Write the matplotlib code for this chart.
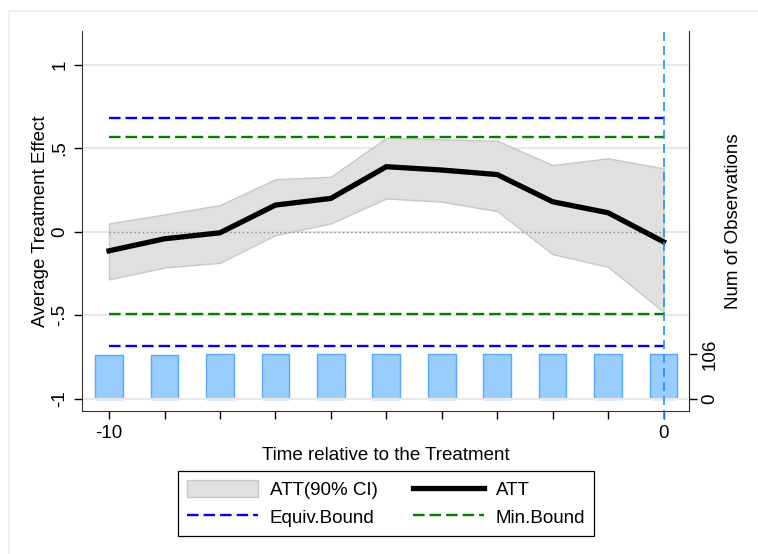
import numpy as np
import matplotlib
matplotlib.use("Agg")
import matplotlib.pyplot as plt
from matplotlib.patches import Patch
from matplotlib.lines import Line2D

plt.rcParams['font.family'] = ['Liberation Sans', 'DejaVu Sans']

# --- data ---
periods = [-10, -9, -8, -7, -6, -5, -4, -3, -2, -1, 0]
att = [-0.114, -0.042, -0.006, 0.16, 0.20, 0.39, 0.37, 0.343, 0.18, 0.114, -0.06]
ci_upper = [0.05, 0.104, 0.16, 0.315, 0.33, 0.563, 0.555, 0.545, 0.40, 0.44, 0.38]
ci_lower = [-0.285, -0.214, -0.186, -0.02, 0.05, 0.20, 0.18, 0.124, -0.134, -0.21, -0.48]
n_obs = [103, 103, 106, 106, 106, 106, 106, 106, 106, 106, 106]
equiv_bound = [-0.683, 0.679]
min_bound = [-0.495, 0.565]
ytick_vals = [-1, -0.5, 0, 0.5, 1]
ytick_labels = ['-1', '-.5', '0', '.5', '1']

FS = 13.5
DASH = (0, (4.9, 2.1))

fig = plt.figure(figsize=(7.58, 5.54), dpi=100)
fig.patch.set_facecolor('white')
ax = fig.add_axes([0.1088, 0.2581, 0.909 - 0.1088, 0.9446 - 0.2581])
ax2 = ax.twinx()

# faint outer frame of the graph region
fig.add_artist(Line2D([9 / 758, 9 / 758], [0, 1 - 11 / 554], color='#f0f0f0', lw=1.2))
fig.add_artist(Line2D([9 / 758, 1], [1 - 11 / 554, 1 - 11 / 554], color='#f0f0f0', lw=1.2))

# number of observations (right axis)
ax2.bar(periods, n_obs, width=0.5, color='#99ccff', edgecolor='#55aaff', linewidth=1)
ax2.set_ylim(-29.2, 872.7)
ax2.set_yticks([0, 106])
ax2.set_yticklabels(['0', '106'], rotation=90, va='center', fontsize=FS)
ax2.tick_params(axis='y', length=6, width=1, pad=3)
ax2.set_ylabel('Num of Observations', fontsize=FS, labelpad=5)
for s in ['top', 'left', 'bottom']:
    ax2.spines[s].set_visible(False)
ax2.spines['right'].set_color('#222222')

ax.set_zorder(ax2.get_zorder() + 1)
ax.patch.set_visible(False)

# grid
for v in ytick_vals:
    ax.axhline(v, color='#e8e8e8', lw=1.5, zorder=0)

ax.fill_between(periods, ci_lower, ci_upper, facecolor='#e0e0e0', edgecolor='#c8c8c8', lw=1, zorder=1)
ax.plot([periods[0], periods[-1]], [0, 0], color='#888888', lw=1, linestyle=(0, (1, 2)), zorder=2)
for b in equiv_bound:
    ax.plot([periods[0], periods[-1]], [b, b], color='#0000ff', lw=1.7, linestyle=DASH, zorder=3)
for b in min_bound:
    ax.plot([periods[0], periods[-1]], [b, b], color='#008000', lw=1.7, linestyle=DASH, zorder=3)
ax.plot(periods, att, color='black', lw=3.8, zorder=4, solid_joinstyle='miter')
ax.axvline(0, ymin=-0.02, ymax=1, color='#1e90ff', lw=1.2, linestyle=(0, (5.4, 3)), clip_on=False, zorder=5)

ax.set_xlim(-10.48, 0.46)
ax.set_ylim(-1.074, 1.205)
ax.set_xticks(periods)
ax.set_xticklabels(['-10'] + [''] * 9 + ['0'], fontsize=FS)
ax.set_yticks(ytick_vals)
ax.set_yticklabels(ytick_labels, rotation=90, va='center', fontsize=FS)
ax.tick_params(axis='both', length=6, width=1, pad=4)
ax.set_xlabel('Time relative to the Treatment', fontsize=FS, labelpad=4)
ax.set_ylabel('Average Treatment Effect', fontsize=FS, labelpad=2)
ax.spines['top'].set_visible(False)
ax.spines['right'].set_visible(False)
ax.spines['left'].set_color('#333333')
ax.spines['bottom'].set_color('#333333')

handles = [
    Patch(facecolor='#e0e0e0', edgecolor='#c8c8c8', label='ATT(90% CI)'),
    Line2D([], [], color='#0000ff', lw=1.7, linestyle=DASH, label='Equiv.Bound'),
    Line2D([], [], color='black', lw=3.8, label='ATT'),
    Line2D([], [], color='#008000', lw=1.7, linestyle=DASH, label='Min.Bound'),
]
leg = fig.legend(handles=handles, ncol=2, loc='center', bbox_to_anchor=(386 / 758, 1 - 503.5 / 554),
                 fontsize=FS, frameon=True, fancybox=False, edgecolor='black', framealpha=1,
                 handlelength=3.8, handleheight=1.0, handletextpad=0.6, columnspacing=1.9,
                 borderpad=0.5, labelspacing=0.45)
leg.get_frame().set_linewidth(0.9)

fig.savefig('out.png', dpi=100)
